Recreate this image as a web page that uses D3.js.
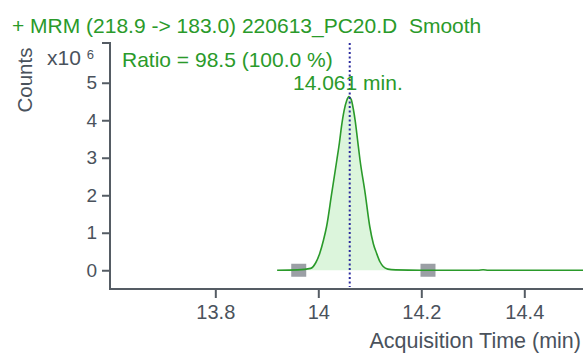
<!DOCTYPE html>
<html>
<head>
<meta charset="utf-8">
<script src="https://cdn.jsdelivr.net/npm/d3@7"></script>
<style>
    body { margin: 0; background: #fff; }
    svg { display: block; font-family: "Liberation Sans", Arial, sans-serif; }
</style>
</head>
<body>
<svg id="chart"></svg>
<script>
// Chromatogram trace (minutes, counts x10^6)
const times = [13.92, 13.96, 13.985, 13.995, 14.003, 14.01, 14.016, 14.026, 14.036, 14.041,
    14.045, 14.05, 14.055, 14.0595, 14.064, 14.068, 14.072, 14.076, 14.081, 14.091,
    14.1, 14.107, 14.113, 14.12, 14.126, 14.135, 14.15, 14.2, 14.31, 14.32, 14.33, 14.514];
const counts = [0, 0.01, 0.05, 0.2, 0.46, 0.8, 1.16, 2.05, 2.94, 3.4,
    3.83, 4.25, 4.52, 4.63, 4.55, 4.3, 3.95, 3.5, 2.94, 2.05,
    1.16, 0.7, 0.46, 0.22, 0.1, 0.03, 0.01, 0, 0, 0.015, 0, 0];

// integration start / end markers
const markerTimes = [13.962, 14.213];
const peakTime = 14.061;

const xTicks = [13.8, 14, 14.2, 14.4];
const xTickLabels = ["13.8", "14", "14.2", "14.4"];
const yTicks = [0, 1, 2, 3, 4, 5];

const titleText = "+ MRM (218.9 -> 183.0) 220613_PC20.D  Smooth";
const ratioText = "Ratio = 98.5 (100.0 %)";
const peakLabel = "14.061 min.";

const width = 583;
const height = 354;
const plotLeft = 110, plotRight = 583, plotTop = 43, plotBottom = 289;

const green = "#2a9a2a";
const axisColor = "#555c64";
const labelColor = "#4a525c";

const svg = d3.select("#chart").attr("width", width).attr("height", height);

const x = d3.scaleLinear().domain([13.5955, 14.514]).range([plotLeft, plotRight]);
const y = d3.scaleLinear().domain([-0.5, 6.06]).range([plotBottom, plotTop]);

const data = times.map((t, i) => ({ t: t, v: counts[i] }));

// peak fill
svg.append("path")
    .datum(data)
    .attr("fill", "#dcf5dc")
    .attr("d", d3.area()
        .x((d) => x(d.t))
        .y0(y(0))
        .y1((d) => y(d.v))
        .curve(d3.curveMonotoneX));

// integration markers (grey squares)
svg.append("g")
    .selectAll("rect")
    .data(markerTimes)
    .enter()
    .append("rect")
    .attr("x", (d) => x(d) - 7.5)
    .attr("y", y(0) - 6.5)
    .attr("width", 15)
    .attr("height", 13)
    .attr("fill", "#9b9fa5");

// trace
svg.append("path")
    .datum(data)
    .attr("fill", "none")
    .attr("stroke", green)
    .attr("stroke-width", 1.6)
    .attr("d", d3.line()
        .x((d) => x(d.t))
        .y((d) => y(d.v))
        .curve(d3.curveMonotoneX));

// retention time marker
svg.append("line")
    .attr("x1", x(peakTime)).attr("x2", x(peakTime))
    .attr("y1", plotTop).attr("y2", plotBottom - 2)
    .attr("stroke", "#2b2b9e")
    .attr("stroke-width", 2)
    .attr("stroke-dasharray", "2,2.5");

// axes
const xAxis = svg.append("g")
    .attr("transform", `translate(0,${plotBottom})`)
    .call(d3.axisBottom(x).tickValues(xTicks).tickSize(9).tickSizeOuter(0)
        .tickFormat((d, i) => xTickLabels[i]));
xAxis.select(".domain").remove();
xAxis.selectAll("line").attr("stroke", axisColor).attr("stroke-width", 2);
xAxis.selectAll("text")
    .attr("y", 16)
    .attr("fill", labelColor)
    .style("font-size", "20px");

const yAxis = svg.append("g")
    .attr("transform", `translate(${plotLeft},0)`)
    .call(d3.axisLeft(y).tickValues(yTicks).tickSize(8).tickSizeOuter(0)
        .tickFormat(d3.format("d")));
yAxis.select(".domain").remove();
yAxis.selectAll("line").attr("stroke", axisColor).attr("stroke-width", 2);
yAxis.selectAll("text")
    .attr("x", -13)
    .attr("fill", labelColor)
    .style("font-size", "19px");

svg.append("path")
    .attr("fill", "none")
    .attr("stroke", axisColor)
    .attr("stroke-width", 2)
    .attr("d", `M${plotLeft - 8},${plotTop}H${plotLeft}V${plotBottom}H${plotRight}`);

// texts
svg.append("text")
    .attr("x", 12).attr("y", 33)
    .attr("fill", green)
    .style("font-size", "21px")
    .style("white-space", "pre")
    .text(titleText);

svg.append("text")
    .attr("x", 122).attr("y", 67)
    .attr("fill", green)
    .style("font-size", "21px")
    .text(ratioText);

svg.append("text")
    .attr("x", 293).attr("y", 90)
    .attr("fill", green)
    .style("font-size", "21px")
    .text(peakLabel);

svg.append("text")
    .attr("transform", "translate(32,80) rotate(-90)")
    .attr("text-anchor", "middle")
    .attr("fill", labelColor)
    .style("font-size", "20.5px")
    .text("Counts");

const mult = svg.append("text")
    .attr("x", 47).attr("y", 65)
    .attr("fill", labelColor)
    .style("font-size", "21px");
mult.append("tspan").text("x10 ");
mult.append("tspan").attr("dy", -6).style("font-size", "13px").text("6");

svg.append("text")
    .attr("x", 581).attr("y", 348)
    .attr("text-anchor", "end")
    .attr("fill", labelColor)
    .style("font-size", "21.5px")
    .text("Acquisition Time (min)");
</script>
</body>
</html>
